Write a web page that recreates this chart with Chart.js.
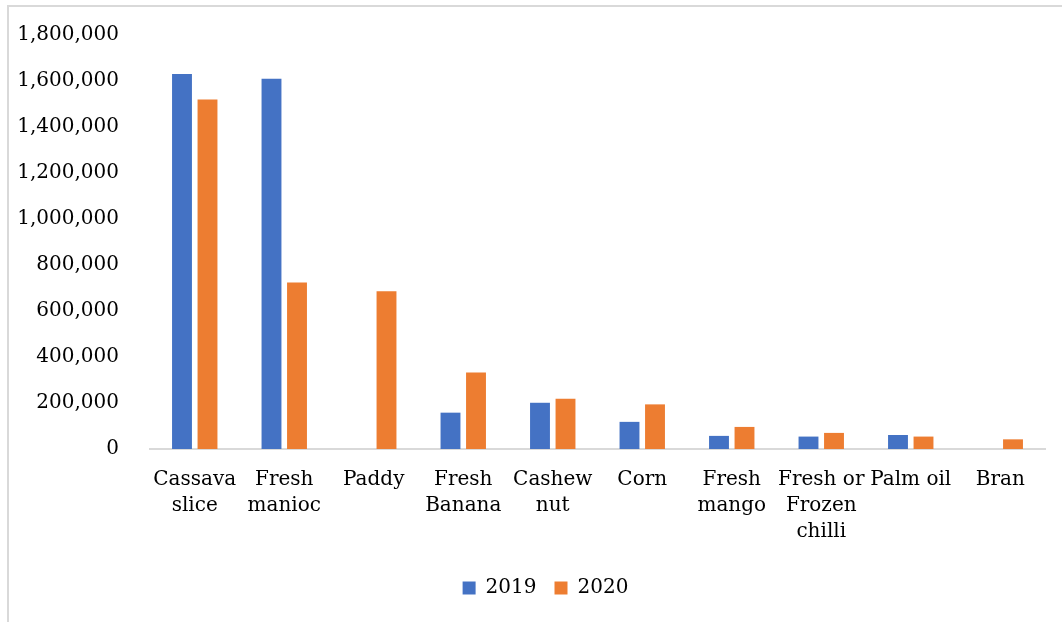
<!DOCTYPE html>
<html>
<head>
<meta charset="utf-8">
<script src="https://cdn.jsdelivr.net/npm/chart.js@4/dist/chart.umd.min.js"></script>
<style>
  html, body { margin: 0; padding: 0; background: #fff; }
  body { width: 1062px; height: 622px; position: relative; overflow: hidden; }
  #frame { position: absolute; left: 7px; top: 5px; width: 1200px; height: 800px;
           border-left: 2px solid #d9d9d9; border-top: 2px solid #d9d9d9; }
  #wrap { position: absolute; left: 0; top: 0; width: 1062px; height: 622px; }
</style>
</head>
<body>
<div id="frame"></div>
<div id="wrap"><canvas id="c"></canvas></div>
<script>
const categories = [
  ["Cassava", "slice"],
  ["Fresh", "manioc"],
  ["Paddy"],
  ["Fresh", "Banana"],
  ["Cashew", "nut"],
  ["Corn"],
  ["Fresh", "mango"],
  ["Fresh or", "Frozen", "chilli"],
  ["Palm oil"],
  ["Bran"]
];
const seriesNames = ["2019", "2020"];
const values2019 = [1630000, 1610000, null, 158000, 201000, 118000, 57000, 54000, 61000, null];
const values2020 = [1520000, 724000, 686000, 333000, 219000, 194000, 96000, 70000, 54000, 42000];
const yTicks = [0, 200000, 400000, 600000, 800000, 1000000, 1200000, 1400000, 1600000, 1800000];

const FONT = "'DejaVu Serif', serif";

const legendShift = {
  id: 'legendShift',
  afterLayout(chart) {
    if (chart.legend) { chart.legend.left += 23; chart.legend.right += 23; }
  }
};

new Chart(document.getElementById('c'), {
  type: 'bar',
  data: {
    labels: categories,
    datasets: [
      { label: seriesNames[0], data: values2019, backgroundColor: '#4472C4',
        categoryPercentage: 0.57, barPercentage: 0.78 },
      { label: seriesNames[1], data: values2020, backgroundColor: '#ED7D31',
        categoryPercentage: 0.57, barPercentage: 0.78 }
    ]
  },
  plugins: [legendShift],
  options: {
    responsive: true,
    maintainAspectRatio: false,
    animation: false,
    layout: { padding: { left: 0, right: 17, top: 24, bottom: 14 } },
    plugins: {
      tooltip: { enabled: false },
      legend: {
        position: 'bottom',
        labels: {
          color: '#000',
          font: { family: FONT, size: 20 },
          boxWidth: 13, boxHeight: 13, padding: 18
        }
      }
    },
    scales: {
      x: {
        grid: { display: false },
        border: { display: true, color: '#d9d9d9', width: 2 },
        ticks: {
          color: '#000', font: { family: FONT, size: 20, lineHeight: 1.3 },
          maxRotation: 0, minRotation: 0, autoSkip: false, padding: 10
        },
        afterFit(scale) { scale.height = 111; }
      },
      y: {
        min: 0, max: 1800000,
        afterBuildTicks(scale) { scale.ticks = yTicks.map(v => ({ value: v })); },
        grid: { display: false },
        border: { display: false },
        ticks: {
          color: '#000', font: { family: FONT, size: 20 }, padding: 23,
          callback: v => Number(v).toLocaleString('en-US')
        },
        afterFit(scale) { scale.width = 150; }
      }
    }
  }
});
</script>
</body>
</html>
